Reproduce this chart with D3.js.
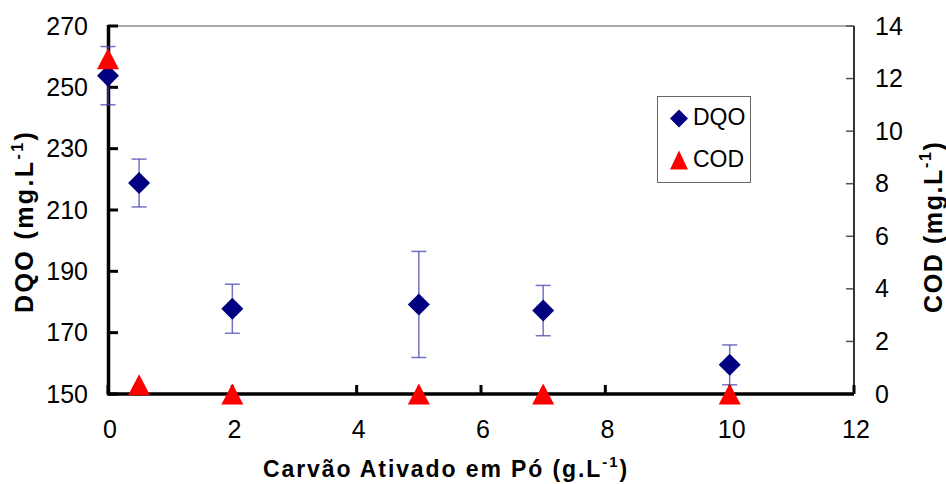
<!DOCTYPE html>
<html>
<head>
<meta charset="utf-8">
<script src="https://cdn.jsdelivr.net/npm/d3@7"></script>
<style>
  body { margin: 0; background: #fff; }
  svg { display: block; font-family: "Liberation Sans", Arial, sans-serif; }
</style>
</head>
<body>
<svg id="chart" width="946" height="484"></svg>
<script>
// Data
const xValues = [0, 0.5, 2, 5, 7, 10];
const dqoValues = [253.8, 218.8, 177.8, 179.2, 177.2, 159.5];
const dqoErrors = [9.5, 7.8, 8.0, 17.3, 8.2, 6.5];
const codValues = [12.75, 0.35, 0, 0, 0, 0];
const xTicks = [0, 2, 4, 6, 8, 10, 12];
const leftTicks = [150, 170, 190, 210, 230, 250, 270];
const rightTicks = [0, 2, 4, 6, 8, 10, 12, 14];
const seriesNames = ["DQO", "COD"];

const svg = d3.select("#chart");
const m = { left: 108, right: 854, top: 26, bottom: 394 };

const x = d3.scaleLinear().domain([0, 12]).range([m.left, m.right]);
const yL = d3.scaleLinear().domain([150, 270]).range([m.bottom, m.top]);
const yR = d3.scaleLinear().domain([0, 14]).range([m.bottom, m.top]);

// plot border (top)
svg.append("line").attr("x1", m.left).attr("x2", m.right).attr("y1", m.top).attr("y2", m.top)
  .attr("stroke", "#8c8c8c").attr("stroke-width", 1.5);

// Right axis
const rAxis = svg.append("g").attr("transform", `translate(${m.right},0)`)
  .call(d3.axisRight(yR).tickValues(rightTicks).tickSize(0).tickPadding(21));
rAxis.select(".domain").remove();
rAxis.selectAll("text").attr("font-size", 25).attr("fill", "#000")
  .attr("font-family", "Liberation Sans, Arial, sans-serif");
svg.append("g").selectAll("line").data(rightTicks).join("line")
  .attr("x1", m.right - 8).attr("x2", m.right).attr("y1", d => yR(d)).attr("y2", d => yR(d))
  .attr("stroke", "#555").attr("stroke-width", 1.5);
svg.append("line").attr("x1", m.right).attr("x2", m.right).attr("y1", m.top).attr("y2", m.bottom)
  .attr("stroke", "#333").attr("stroke-width", 2);

// Left axis
const lAxis = svg.append("g").attr("transform", `translate(${m.left},0)`)
  .call(d3.axisLeft(yL).tickValues(leftTicks).tickSize(0).tickPadding(20));
lAxis.select(".domain").remove();
lAxis.selectAll("text").attr("font-size", 25).attr("fill", "#000")
  .attr("font-family", "Liberation Sans, Arial, sans-serif");
svg.append("g").selectAll("line").data(leftTicks).join("line")
  .attr("x1", m.left).attr("x2", m.left + 10).attr("y1", d => yL(d)).attr("y2", d => yL(d))
  .attr("stroke", "#000").attr("stroke-width", 3);

// Bottom axis
const bAxis = svg.append("g").attr("transform", `translate(0,${m.bottom})`)
  .call(d3.axisBottom(x).tickValues(xTicks).tickSize(0).tickPadding(26));
bAxis.select(".domain").remove();
bAxis.selectAll("text").attr("font-size", 25).attr("fill", "#000").attr("dx", 1.5)
  .attr("font-family", "Liberation Sans, Arial, sans-serif");
svg.append("g").selectAll("line").data(xTicks).join("line")
  .attr("x1", d => x(d)).attr("x2", d => x(d)).attr("y1", m.bottom).attr("y2", m.bottom - 9)
  .attr("stroke", "#000").attr("stroke-width", 3);

svg.append("line").attr("x1", m.left).attr("x2", m.right).attr("y1", m.bottom).attr("y2", m.bottom)
  .attr("stroke", "#000").attr("stroke-width", 3.5);
svg.append("line").attr("x1", m.left + 0.5).attr("x2", m.left + 0.5).attr("y1", m.top - 1).attr("y2", m.bottom + 1.5)
  .attr("stroke", "#000").attr("stroke-width", 3.5);

// Error bars
const errColor = "rgba(70,70,175,0.75)";
const eb = svg.append("g");
xValues.forEach((xv, i) => {
  const cx = x(xv), top = yL(dqoValues[i] + dqoErrors[i]), bot = yL(dqoValues[i] - dqoErrors[i]);
  eb.append("line").attr("x1", cx).attr("x2", cx).attr("y1", top).attr("y2", bot)
    .attr("stroke", errColor).attr("stroke-width", 1.5);
  [top, bot].forEach(yy => eb.append("line").attr("x1", cx - 7.5).attr("x2", cx + 7.5)
    .attr("y1", yy).attr("y2", yy).attr("stroke", errColor).attr("stroke-width", 1.5));
});

const diamond = s => `M0,${-s}L${s},0L0,${s}L${-s},0Z`;
const triangle = (w, h) => `M0,${-h / 2}L${w / 2},${h / 2}L${-w / 2},${h / 2}Z`;

// DQO diamonds
svg.append("g").selectAll("path").data(xValues).join("path")
  .attr("d", diamond(11))
  .attr("transform", (d, i) => `translate(${x(d)},${yL(dqoValues[i])})`)
  .attr("fill", "#000080");

// COD triangles
svg.append("g").selectAll("path").data(xValues).join("path")
  .attr("d", triangle(22, 21))
  .attr("transform", (d, i) => `translate(${x(d)},${yR(codValues[i])})`)
  .attr("fill", "#ff0000");

// Legend
const lg = svg.append("g");
lg.append("rect").attr("x", 657.5).attr("y", 96.5).attr("width", 93).attr("height", 86)
  .attr("fill", "#fff").attr("stroke", "#666").attr("stroke-width", 1);
lg.append("path").attr("d", diamond(9)).attr("transform", "translate(679,118.5)").attr("fill", "#000080");
lg.append("path").attr("d", triangle(18, 19)).attr("transform", "translate(679,160)").attr("fill", "#ff0000");
lg.append("text").attr("x", 693).attr("y", 125).attr("font-size", 23).text(seriesNames[0]);
lg.append("text").attr("x", 693).attr("y", 167).attr("font-size", 23).text(seriesNames[1]);

// Axis titles
function titleWithSup(g, main, sup, fs, supFs) {
  g.append("tspan").text(main);
  g.append("tspan").attr("font-size", supFs).attr("dy", -fs * 0.42).text(sup);
  g.append("tspan").attr("dy", fs * 0.42).text(")");
}
const xt = svg.append("text").attr("x", 263).attr("y", 477).attr("font-size", 23)
  .attr("font-weight", "bold").attr("letter-spacing", 1.9);
titleWithSup(xt, "Carvão Ativado em Pó (g.L", "-1", 23, 15);

const ylt = svg.append("text").attr("transform", "translate(33,313) rotate(-90)")
  .attr("font-size", 25).attr("font-weight", "bold").attr("letter-spacing", 2.4);
titleWithSup(ylt, "DQO (mg.L", "-1", 25, 16);

const yrt = svg.append("text").attr("transform", "translate(941.5,313) rotate(-90)")
  .attr("font-size", 25).attr("font-weight", "bold").attr("letter-spacing", 1.6);
titleWithSup(yrt, "COD (mg.L", "-1", 25, 16);
</script>
</body>
</html>
